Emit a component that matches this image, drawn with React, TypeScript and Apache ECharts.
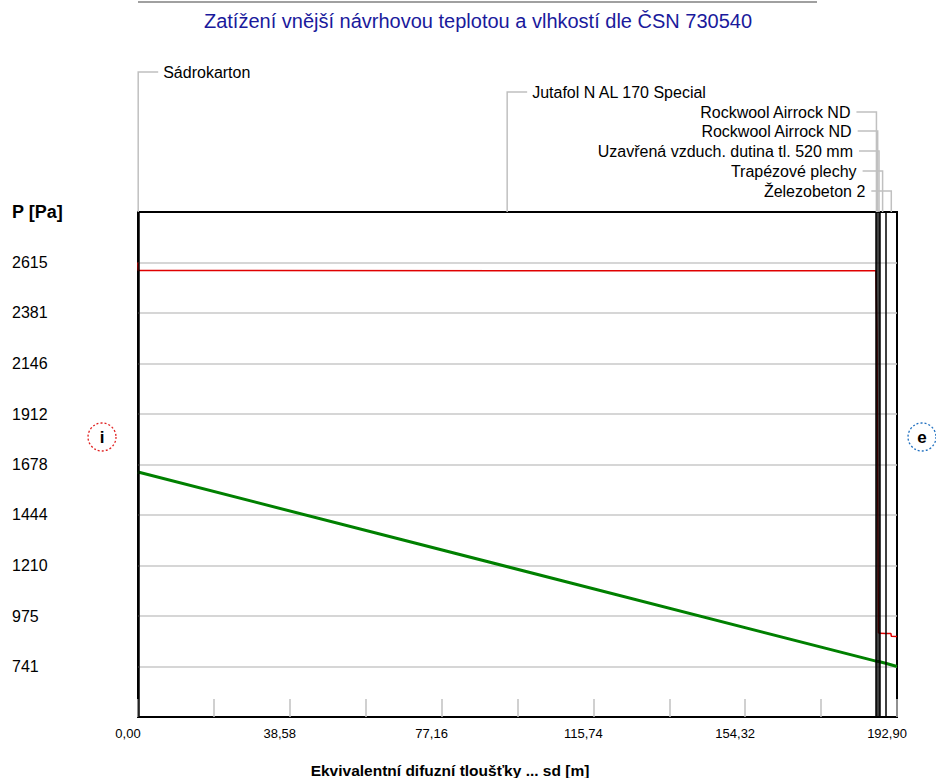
import React, { useEffect, useRef } from 'react';
import * as echarts from 'echarts';

// ---- data ----
const layerNames = [
  'Sádrokarton',
  'Jutafol N AL 170 Special',
  'Rockwool Airrock ND',
  'Rockwool Airrock ND',
  'Uzavřená vzduch. dutina tl. 520 mm',
  'Trapézové plechy',
  'Železobeton 2',
];
const layerSd = [0.1, 187.45, 0.25, 0.38, 0.3, 1.52, 2.9];

// saturated water vapour pressure (red)
const pSatSd = [0, 0.1, 187.55, 187.8, 188.18, 188.48, 190.0, 191.36, 191.45, 192.9];
const pSatVals = [2615, 2578, 2576, 2286, 898, 895, 894, 894, 882, 880];

// partial water vapour pressure (green)
const pSd = [0, 0.1, 187.55, 187.8, 188.18, 188.48, 190.0, 192.9];
const pVals = [1643, 1642, 766, 765, 764, 763, 756, 741];

const yTicks = [741, 975, 1210, 1444, 1678, 1912, 2146, 2381, 2615];
const yMin = 507;
const yMax = 2849;
const xMin = 0;
const xMax = 192.9;
const xStep = 19.29;

const title = 'Zatížení vnější návrhovou teplotou a vlhkostí dle ČSN 730540';
const xTitle = 'Ekvivalentní difuzní tloušťky ... sd [m]';
const yTitle = 'P [Pa]';

// ---- layout for layer labels (not data) ----
const labelRows = [
  { y: 72, side: 'right' },
  { y: 92, side: 'right' },
  { y: 112, side: 'left' },
  { y: 131, side: 'left' },
  { y: 151, side: 'left' },
  { y: 171, side: 'left' },
  { y: 191, side: 'left' },
];

const FONT = '"Liberation Sans", Arial, sans-serif';

export default function App() {
  const ref = useRef<HTMLDivElement>(null);
  useEffect(() => {
    document.body.style.margin = '0';
    if (!ref.current) return;
    const chart = echarts.init(ref.current, null, { renderer: 'svg' });

    const bounds: number[] = [0];
    layerSd.forEach((s) => bounds.push(bounds[bounds.length - 1] + s));
    const centers = layerSd.map((_, i) => (bounds[i] + bounds[i + 1]) / 2);

    const option: any = {
      animation: false,
      backgroundColor: '#fff',
      textStyle: { fontFamily: FONT },
      grid: {
        left: 138,
        top: 212,
        width: 759,
        height: 505,
        show: true,
        borderColor: '#000',
        borderWidth: 2,
        backgroundColor: 'transparent',
      },
      xAxis: {
        type: 'value',
        min: xMin,
        max: xMax,
        interval: xStep,
        axisLine: { show: false },
        axisTick: { show: true, inside: true, length: 18, lineStyle: { color: '#c0c0c0', width: 1.5 } },
        splitLine: { show: false },
        axisLabel: {
          color: '#000',
          fontSize: 13,
          fontFamily: FONT,
          margin: 10,
          padding: [0, 20, 0, 0],
          showMinLabel: true,
          showMaxLabel: true,
          formatter: (v: number, idx: number) =>
            idx % 2 === 0 ? v.toFixed(2).replace('.', ',') : '',
        },
      },
      yAxis: {
        type: 'value',
        min: yMin,
        max: yMax,
        axisLine: { show: false },
        axisTick: { show: false, customValues: yTicks },
        splitLine: { show: true, lineStyle: { color: '#c8c8c8', width: 1.5 } },
        axisLabel: {
          customValues: yTicks,
          color: '#000',
          fontSize: 16,
          fontFamily: FONT,
          align: 'left',
          margin: 126,
          formatter: (v: number) => String(Math.round(v)),
        },
      },
      graphic: [
        { type: 'line', shape: { x1: 138, y1: 2, x2: 817, y2: 2 }, style: { stroke: '#a0a0a0', lineWidth: 2 } },
        {
          type: 'text',
          x: 478,
          y: 21,
          style: { text: title, fill: '#1a1a9c', font: `20px ${FONT}`, align: 'center', verticalAlign: 'middle' },
        },
        {
          type: 'text',
          x: 12,
          y: 212,
          style: { text: yTitle, fill: '#000', font: `bold 18px ${FONT}`, align: 'left', verticalAlign: 'middle' },
        },
        {
          type: 'text',
          x: 450,
          y: 770,
          style: { text: xTitle, fill: '#000', font: `bold 15.5px ${FONT}`, align: 'center', verticalAlign: 'middle' },
        },
        {
          type: 'circle',
          shape: { cx: 102, cy: 437, r: 14 },
          style: { fill: '#fff', stroke: '#e02020', lineWidth: 1.3, lineDash: [2, 2] },
        },
        {
          type: 'text',
          x: 102,
          y: 437,
          style: { text: 'i', fill: '#000', font: `bold 17px ${FONT}`, align: 'center', verticalAlign: 'middle' },
        },
        {
          type: 'circle',
          shape: { cx: 922, cy: 437, r: 14 },
          style: { fill: '#fff', stroke: '#2070c0', lineWidth: 1.3, lineDash: [2, 2] },
        },
        {
          type: 'text',
          x: 922,
          y: 437,
          style: { text: 'e', fill: '#000', font: `bold 17px ${FONT}`, align: 'center', verticalAlign: 'middle' },
        },
      ],
      series: [
        {
          type: 'line',
          data: pSatSd.map((x, i) => [x, pSatVals[i]]),
          showSymbol: false,
          symbol: 'none',
          lineStyle: { color: '#e00000', width: 1.5 },
          z: 3,
          silent: true,
        },
        {
          type: 'line',
          data: pSd.map((x, i) => [x, pVals[i]]),
          showSymbol: false,
          symbol: 'none',
          lineStyle: { color: '#008000', width: 3 },
          z: 4,
          silent: true,
          markLine: {
            silent: true,
            symbol: 'none',
            label: { show: false },
            lineStyle: { color: '#000', type: 'solid', width: 1.5 },
            data: bounds.slice(1, -1).map((b) => ({ xAxis: b })),
            z: 5,
          },
        },
        {
          type: 'custom',
          coordinateSystem: 'cartesian2d',
          clip: false,
          silent: true,
          data: centers.map((c) => [c, yMax]),
          renderItem: (params: any, api: any) => {
            const i = params.dataIndex;
            const pt = api.coord([api.value(0), api.value(1)]);
            const x = pt[0];
            const top = pt[1];
            const row = labelRows[i];
            const y = row.y;
            const line = { stroke: '#c0c0c0', lineWidth: 1.5, fill: null };
            if (row.side === 'right') {
              return {
                type: 'group',
                children: [
                  { type: 'polyline', shape: { points: [[x, top], [x, y], [x + 20, y]] }, style: line },
                  {
                    type: 'text',
                    x: x + 25,
                    y,
                    style: { text: layerNames[i], fill: '#000', font: `16px ${FONT}`, align: 'left', verticalAlign: 'middle' },
                  },
                ],
              };
            }
            return {
              type: 'group',
              children: [
                { type: 'polyline', shape: { points: [[x, top], [x, y], [x - 20, y]] }, style: line },
                {
                  type: 'text',
                  x: x - 26,
                  y,
                  style: { text: layerNames[i], fill: '#000', font: `16px ${FONT}`, align: 'right', verticalAlign: 'middle' },
                },
              ],
            };
          },
        },
      ],
    };
    chart.setOption(option);
    return () => chart.dispose();
  }, []);
  return <div ref={ref} style={{ width: 936, height: 778 }} />;
}
